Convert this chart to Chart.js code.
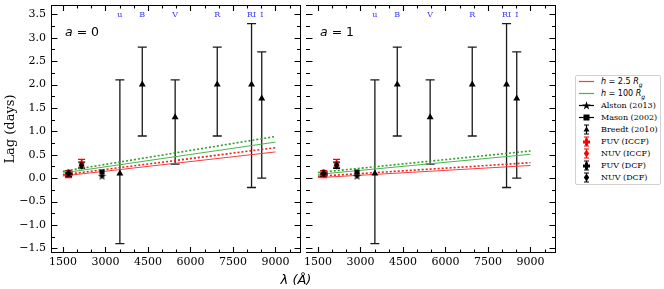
<!DOCTYPE html>
<html>
<head>
<meta charset="utf-8">
<script src="https://cdn.jsdelivr.net/npm/chart.js@4.4.1/dist/chart.umd.min.js"></script>
<style>
  body { margin: 0; background: #fff; width: 664px; height: 289px; position: relative; overflow: hidden; }
  #c1 { position: absolute; left: 0; top: 0; }
  #c2 { position: absolute; left: 300px; top: 0; }
  #xtitle { position: absolute; left: 246px; width: 100px; top: 272px; text-align: center;
            font: italic 13px 'DejaVu Sans'; line-height: 15px; color: #000; }
  #legend { position: absolute; left: 575px; top: 75px; width: 84px; padding: 0 0 1px 0;
            border: 1px solid #d0d0d0; border-radius: 2px; background: #fff;
            font: 8px 'DejaVu Serif'; color: #000; }
  .row { height: 11.9px; display: flex; align-items: center; white-space: nowrap; }
  .row svg { margin-left: 3px; margin-right: 7px; flex: none; }
  .row .m { font-family: 'DejaVu Sans'; }
</style>
</head>
<body>
<canvas id="c1" width="306" height="289"></canvas>
<canvas id="c2" width="261" height="289"></canvas>
<div id="xtitle">λ (Å)</div>
<div id="legend"></div>
<script>
// optical bands (Breedt 2010)
const bandNames = ['u', 'B', 'V', 'R', 'RI', 'I'];
const bandWave = [3510, 4300, 5460, 6945, 8155, 8515];
const breedtLag = [0.10, 2.0, 1.3, 2.0, 2.0, 1.7];
const breedtLow = [-1.4, 0.9, 0.3, 0.9, -0.2, 0.0];
const breedtHigh = [2.1, 2.8, 2.1, 2.8, 3.3, 2.7];

// UV points
const masonWave = [2880];
const masonLag = [0.13];
const alstonWave = [2880];
const alstonLag = [0.04];
const fuvWave = [1700];
const nuvWave = [2160];
const fuvIccf = [0.08], fuvIccfLow = [0.01], fuvIccfHigh = [0.16];
const nuvIccf = [0.31], nuvIccfLow = [0.23], nuvIccfHigh = [0.40];
const fuvDcf = [0.10], fuvDcfLow = [0.04], fuvDcfHigh = [0.16];
const nuvDcf = [0.27], nuvDcfLow = [0.21], nuvDcfHigh = [0.34];

// model lag curves
const modelWave = [1500, 9000];
const a0Red = [0.045, 0.56];
const a0RedDot = [0.07, 0.65];
const a0Green = [0.11, 0.77];
const a0GreenDot = [0.145, 0.89];
const a1Red = [0.01, 0.27];
const a1RedDot = [0.04, 0.33];
const a1Green = [0.08, 0.51];
const a1GreenDot = [0.12, 0.58];

const xTicks = [1500, 3000, 4500, 6000, 7500, 9000];
const yTicks = [-1.5, -1.0, -0.5, 0.0, 0.5, 1.0, 1.5, 2.0, 2.5, 3.0, 3.5];

const RED = '#f04040', RED_DOT = '#ee1c1c', GREEN = '#4cb44c', GREEN_DOT = '#2ca02c';

function pts(xs, ys) {
    return xs.map((x, i) => ({ x: x, y: ys[i] }));
}

// small marker images
function marker(size, draw) {
    const c = document.createElement('canvas');
    c.width = size; c.height = size;
    draw(c.getContext('2d'), size);
    return c;
}
const starImg = marker(9, (g, s) => {
    g.beginPath();
    for (let k = 0; k < 10; k++) {
        const r = k % 2 ? 1.8 : 4.3;
        const ang = -Math.PI / 2 + k * Math.PI / 5;
        g.lineTo(s / 2 + r * Math.cos(ang), s / 2 + r * Math.sin(ang));
    }
    g.closePath(); g.fillStyle = '#000'; g.fill();
});
function plusImg(color) {
    return marker(8, (g) => {
        g.fillStyle = color;
        g.fillRect(2.5, 0.5, 3, 7);
        g.fillRect(0.5, 2.5, 7, 3);
    });
}
function diamondImg(color) {
    return marker(9, (g) => {
        g.beginPath();
        g.moveTo(4.5, 0.3); g.lineTo(7.3, 4.5); g.lineTo(4.5, 8.7); g.lineTo(1.7, 4.5);
        g.closePath(); g.fillStyle = color; g.fill();
    });
}

function buildDatasets(red, redDot, green, greenDot) {
    const lineDs = (vals, color, dash, width) => ({
        data: pts(modelWave, vals), showLine: true, pointRadius: 0,
        borderColor: color, borderWidth: width, borderDash: dash, fill: false
    });
    return [
        { data: pts(bandWave, breedtLag), pointStyle: 'triangle', pointRadius: 4,
          backgroundColor: '#000', borderColor: '#000', borderWidth: 0,
          err: { low: breedtLow, high: breedtHigh, color: '#1a1a1a', cap: 4.5 } },
        { data: pts(fuvWave, fuvDcf), pointStyle: plusImg('#000'),
          err: { low: fuvDcfLow, high: fuvDcfHigh, color: '#000', cap: 3.5 } },
        { data: pts(nuvWave, nuvDcf), pointStyle: diamondImg('#000'),
          err: { low: nuvDcfLow, high: nuvDcfHigh, color: '#000', cap: 3.5 } },
        { data: pts(alstonWave, alstonLag), pointStyle: starImg },
        { data: pts(masonWave, masonLag), pointStyle: 'rect', pointRadius: 3.6,
          backgroundColor: '#000', borderColor: '#000', borderWidth: 0 },
        { data: pts(fuvWave, fuvIccf), pointStyle: plusImg('#ff0000'),
          err: { low: fuvIccfLow, high: fuvIccfHigh, color: '#ff0000', cap: 3.5 } },
        { data: pts(nuvWave, nuvIccf), pointStyle: diamondImg('#ff0000'),
          err: { low: nuvIccfLow, high: nuvIccfHigh, color: '#ff0000', cap: 3.5 } },
        lineDs(greenDot, GREEN_DOT, [2, 2], 1.6),
        lineDs(green, GREEN, [], 1),
        lineDs(redDot, RED_DOT, [2, 2], 1.6),
        lineDs(red, RED, [], 1)
    ];
}

const errorBars = {
    id: 'errorBars',
    beforeDatasetsDraw(chart) {
        const { ctx, scales: { x, y } } = chart;
        ctx.save();
        ctx.lineWidth = 1.3;
        chart.data.datasets.forEach(ds => {
            if (!ds.err) return;
            ctx.strokeStyle = ds.err.color;
            const cap = ds.err.cap;
            ds.data.forEach((p, i) => {
                const px = x.getPixelForValue(p.x);
                const y1 = y.getPixelForValue(ds.err.low[i]);
                const y2 = y.getPixelForValue(ds.err.high[i]);
                ctx.beginPath();
                ctx.moveTo(px, y1); ctx.lineTo(px, y2);
                ctx.moveTo(px - cap, y1); ctx.lineTo(px + cap, y1);
                ctx.moveTo(px - cap, y2); ctx.lineTo(px + cap, y2);
                ctx.stroke();
            });
        });
        ctx.restore();
    }
};

function panelPlugin(spin, drawLeftSpine) {
    return {
        id: 'panel',
        afterDraw(chart) {
            const { ctx, chartArea: a, scales: { x, y } } = chart;
            ctx.save();
            ctx.strokeStyle = '#000';
            ctx.lineWidth = 1;
            ctx.beginPath();
            if (drawLeftSpine) { ctx.moveTo(a.left + 0.5, a.top); ctx.lineTo(a.left + 0.5, a.bottom); }
            ctx.moveTo(a.left, a.top + 0.5); ctx.lineTo(a.right, a.top + 0.5);
            ctx.moveTo(a.right - 0.5, a.top); ctx.lineTo(a.right - 0.5, a.bottom);
            ctx.moveTo(a.left, a.bottom - 0.5); ctx.lineTo(a.right, a.bottom - 0.5);
            ctx.stroke();

            // inward ticks on all sides
            ctx.lineWidth = 1.1;
            ctx.beginPath();
            for (let v = 1500; v <= x.max; v += 500) {
                const len = xTicks.includes(v) ? 6 : 3.5;
                const px = Math.round(x.getPixelForValue(v)) + 0.5;
                ctx.moveTo(px, a.bottom); ctx.lineTo(px, a.bottom - len);
                ctx.moveTo(px, a.top); ctx.lineTo(px, a.top + len);
            }
            for (let k = Math.ceil(y.min * 4); k <= Math.floor(y.max * 4); k++) {
                const len = k % 2 === 0 ? 6.5 : 4;
                const py = Math.round(y.getPixelForValue(k / 4)) + 0.5;
                ctx.moveTo(a.left, py); ctx.lineTo(a.left + len, py);
                ctx.moveTo(a.right, py); ctx.lineTo(a.right - len, py);
            }
            ctx.stroke();

            // band names along the top
            ctx.fillStyle = '#3a3af5';
            ctx.font = '8px "DejaVu Serif"';
            ctx.textAlign = 'center';
            ctx.textBaseline = 'middle';
            bandNames.forEach((b, i) => {
                ctx.fillText(b, x.getPixelForValue(bandWave[i]), y.getPixelForValue(3.49));
            });

            // spin label
            ctx.fillStyle = '#000';
            ctx.textAlign = 'left';
            ctx.font = 'italic 12.5px "DejaVu Sans"';
            const lx = a.left + 14, ly = 33;
            ctx.fillText('a', lx, ly);
            const w = ctx.measureText('a').width;
            ctx.font = '12.5px "DejaVu Sans"';
            ctx.fillText(' = ' + spin, lx + w, ly);
            ctx.restore();
        }
    };
}

function xScale() {
    return {
        type: 'linear', min: 1080, max: 9900,
        afterBuildTicks: s => { s.ticks = xTicks.map(v => ({ value: v })); },
        afterFit: s => { s.height = 36; s.paddingLeft = 0; s.paddingRight = 0; },
        grid: { display: false, drawTicks: false },
        border: { display: false },
        ticks: { autoSkip: false, maxRotation: 0, padding: 3, color: '#000',
                 font: { family: 'DejaVu Serif', size: 11 }, callback: v => String(v) }
    };
}

function yScale(showLabels) {
    return {
        type: 'linear', min: -1.6, max: 3.7, display: showLabels,
        afterBuildTicks: s => { s.ticks = yTicks.map(v => ({ value: v })); },
        afterFit: s => { s.width = showLabels ? 51 : 0; s.paddingTop = 0; s.paddingBottom = 0; },
        grid: { display: false, drawTicks: false },
        border: { display: false },
        ticks: { padding: 5, color: '#000', font: { family: 'DejaVu Serif', size: 11 },
                 callback: v => v.toFixed(1).replace('-', '\u2212') },
        title: { display: true, text: 'Lag (days)', color: '#000', padding: { top: 3, bottom: 0 },
                 font: { family: 'DejaVu Serif', size: 13 } }
    };
}

function makeChart(id, datasets, spin, showY, padLeft) {
    return new Chart(document.getElementById(id), {
        type: 'scatter',
        data: { datasets: datasets },
        options: {
            responsive: false,
            animation: false,
            layout: { padding: { top: 5, left: padLeft, right: 0, bottom: 0 } },
            scales: { x: xScale(), y: yScale(showY) },
            plugins: { legend: { display: false }, tooltip: { enabled: false } }
        },
        plugins: [errorBars, panelPlugin(spin, showY)]
    });
}

makeChart('c1', buildDatasets(a0Red, a0RedDot, a0Green, a0GreenDot), '0', true, 0);
makeChart('c2', buildDatasets(a1Red, a1RedDot, a1Green, a1GreenDot), '1', false, 6);

// legend
const hline = c => `<line x1="0" y1="5.5" x2="15" y2="5.5" stroke="${c}" stroke-width="1.2"/>`;
const vbar = c => `<path d="M7.5 1V10M5 1H10M5 10H10" stroke="${c}" stroke-width="1.2" fill="none"/>`;
const plusSvg = c => `<path d="M6 2.5h3v2h2v3h-2v2h-3v-2h-2v-3h2z" fill="${c}"/>`;
const diaSvg = c => `<path d="M7.5 1.5L10.2 5.5L7.5 9.5L4.8 5.5Z" fill="${c}"/>`;
const starSvg = '<polygon points="7.5,1.3 8.6,4.4 11.8,4.4 9.2,6.4 10.2,9.6 7.5,7.6 4.8,9.6 5.8,6.4 3.2,4.4 6.4,4.4" fill="#000"/>';
const legendRows = [
    [hline(RED), '<span class="m"><i>h</i> = 2.5 <i>R<sub style="font-size:6px">g</sub></i></span>'],
    [hline(GREEN), '<span class="m"><i>h</i> = 100 <i>R<sub style="font-size:6px">g</sub></i></span>'],
    [hline('#000') + starSvg, 'Alston (2013)'],
    [hline('#000') + '<rect x="4.5" y="2.5" width="6" height="6" fill="#000"/>', 'Mason (2002)'],
    [vbar('#000') + '<path d="M7.5 2.5L10.5 7.5H4.5Z" fill="#000"/>', 'Breedt (2010)'],
    [vbar('#ff0000') + plusSvg('#ff0000'), 'FUV (ICCF)'],
    [vbar('#ff0000') + diaSvg('#ff0000'), 'NUV (ICCF)'],
    [vbar('#000') + plusSvg('#000'), 'FUV (DCF)'],
    [vbar('#000') + diaSvg('#000'), 'NUV (DCF)']
];
document.getElementById('legend').innerHTML = legendRows.map(r =>
    `<div class="row"><svg width="15" height="11">${r[0]}</svg><span>${r[1]}</span></div>`).join('');
</script>
</body>
</html>
